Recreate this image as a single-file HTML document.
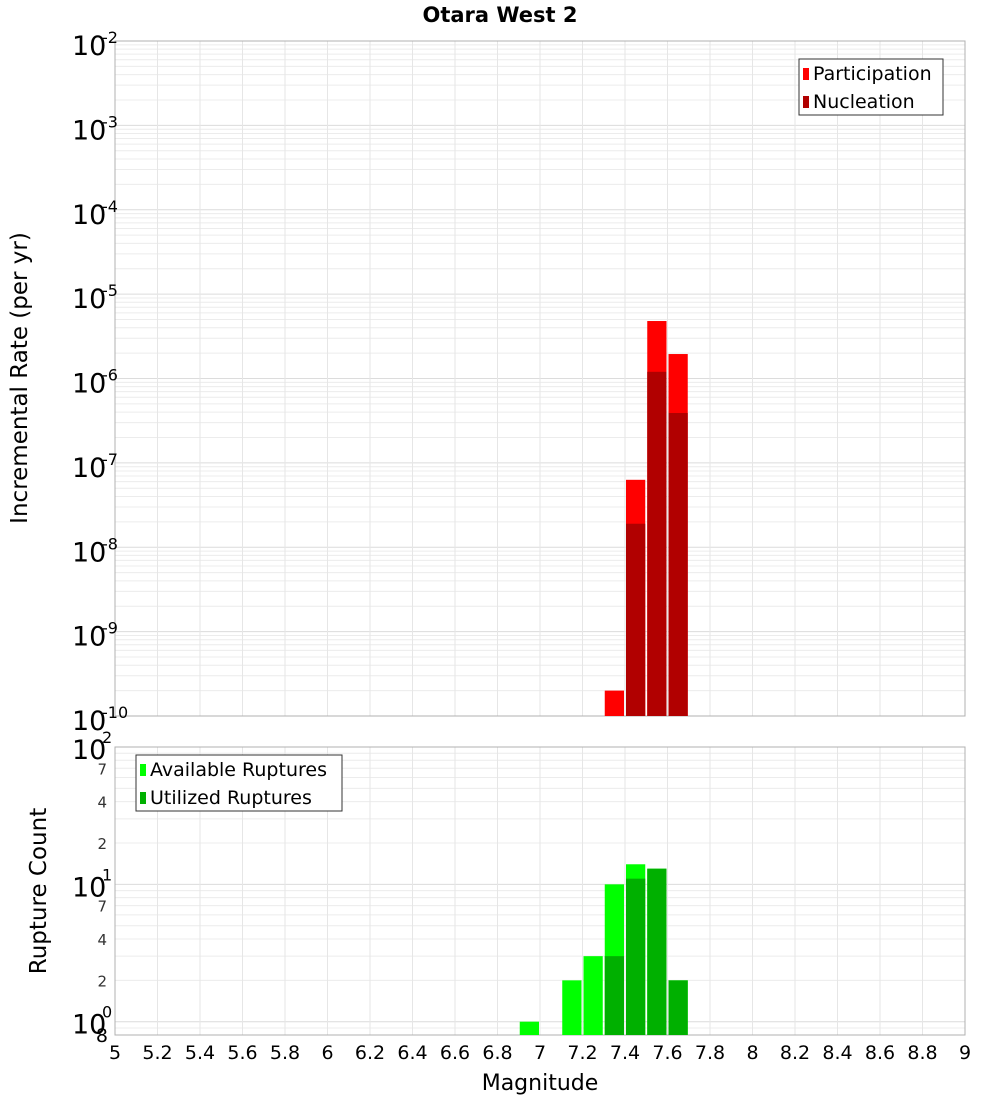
<!DOCTYPE html>
<html><head><meta charset="utf-8"><style>
body{margin:0;background:#fff;font-family:"Liberation Sans","DejaVu Sans",sans-serif}
svg text{font-family:"DejaVu Sans","Liberation Sans",sans-serif}
</style></head><body>
<svg id="c" width="1000" height="1100" xmlns="http://www.w3.org/2000/svg">
<text x="500" y="22" text-anchor="middle" font-size="21" font-weight="bold">Otara West 2</text>
<g id="top"></g><g id="bot"></g>
<text transform="translate(27,378) rotate(-90)" text-anchor="middle" font-size="23">Incremental Rate (per yr)</text>
<text transform="translate(46,891) rotate(-90)" text-anchor="middle" font-size="23">Rupture Count</text>
<text x="540" y="1090" text-anchor="middle" font-size="22">Magnitude</text>
</svg>
<script>
const mags = [7.3, 7.4, 7.5, 7.6];
const participation = [2e-10, 6.3e-8, 4.8e-6, 1.95e-6];
const nucleationMags = [7.4, 7.5, 7.6];
const nucleation = [1.9e-8, 1.2e-6, 3.9e-7];
const availMags = [6.9, 7.1, 7.2, 7.3, 7.4, 7.5, 7.6];
const available = [1, 2, 3, 10, 14, 13, 2];
const utilMags = [7.3, 7.4, 7.5, 7.6];
const utilized = [3, 11, 13, 2];
const xTicks = [5,5.2,5.4,5.6,5.8,6,6.2,6.4,6.6,6.8,7,7.2,7.4,7.6,7.8,8,8.2,8.4,8.6,8.8,9];

const NS="http://www.w3.org/2000/svg";
const X0=115,X1=965;
const xs=m=>X0+(m-5)/4*(X1-X0);
const T={y0:41,y1:716,lmax:-2,lmin:-10};
const B={y0:747,y1:1035,lmax:2,lmin:Math.log10(0.8)};
const ys=(p,v)=>p.y0+(p.lmax-Math.log10(v))/(p.lmax-p.lmin)*(p.y1-p.y0);
function mk(parent,tag,attrs){const e=document.createElementNS(NS,tag);for(const k in attrs)e.setAttribute(k,attrs[k]);parent.appendChild(e);return e;}

function panel(g,p,name){
  mk(g,'rect',{x:X0,y:p.y0,width:X1-X0,height:p.y1-p.y0,fill:'#fff'});
  for(let d=Math.floor(p.lmin);d<p.lmax;d++){
    for(let k=1;k<10;k++){const v=k*Math.pow(10,d);const l=Math.log10(v);
      if(l<p.lmin-1e-9||l>p.lmax+1e-9)continue;const y=ys(p,v);
      mk(g,'line',{x1:X0,x2:X1,y1:y,y2:y,stroke:k==1?'#dcdcdc':'#ececec','stroke-width':1});}
  }
  xTicks.forEach(t=>{const x=xs(t);mk(g,'line',{x1:x,x2:x,y1:p.y0,y2:p.y1,stroke:'#e6e6e6'});});
  const fr=mk(g,'rect',{x:X0,y:p.y0,width:X1-X0,height:p.y1-p.y0,fill:'none',stroke:'#b0b0b0'});
  
  
}
function bars(g,p,ms,vals,color,name){
  ms.forEach((m,i)=>{const x=xs(m)+1,w=xs(m+0.1)-xs(m)-2,y=ys(p,vals[i]);
    const r=mk(g,'rect',{x:x,y:y,width:w,height:p.y1-y,fill:color});
    
    });
}
function legend(g,x,y,w,items,name){
  const r=mk(g,'rect',{x:x,y:y,width:w,height:56,fill:'#fff',stroke:'#333'});
  
  
  items.forEach((it,i)=>{mk(g,'rect',{x:x+4,y:y+9+i*28,width:6,height:12,fill:it[1]});
    const t=mk(g,'text',{x:x+14,y:y+21+i*28,'font-size':19});t.textContent=it[0];
    
    });
}
const gt=document.getElementById('top'),gb=document.getElementById('bot');
panel(gt,T,'rate');
bars(gt,T,mags,participation,'#ff0000','participation');
bars(gt,T,nucleationMags,nucleation,'#b10000','nucleation');
legend(gt,799,59,144,[['Participation','#ff0000'],['Nucleation','#b10000']],'rate-legend');
for(let d=-2;d>=-10;d--){const y=ys(T,Math.pow(10,d));
  const t=mk(gt,'text',{x:72,y:y+14,'font-size':27});t.textContent='10';
  
  
  const s=mk(gt,'text',{x:102,y:y+2,'font-size':16});s.textContent=String(d);}
panel(gb,B,'count');
bars(gb,B,availMags,available,'#00ff00','available');
bars(gb,B,utilMags,utilized,'#00b000','utilized');
legend(gb,136,755,206,[['Available Ruptures','#00ff00'],['Utilized Ruptures','#00b000']],'count-legend');
[[100,'10','2'],[10,'10','1'],[1,'10','0']].forEach(a=>{const y=ys(B,a[0]);
  const t=mk(gb,'text',{x:72,y:y+12,'font-size':27});t.textContent=a[1];
  
  
  const s=mk(gb,'text',{x:102,y:y-4,'font-size':16});s.textContent=a[2];});
[70,40,20,7,4,2].forEach(v=>{const y=ys(B,v);const t=mk(gb,'text',{x:107,y:y+6,'font-size':15,'text-anchor':'end',fill:'#333'});t.textContent=String(v).charAt(0);});
{const t=mk(gb,'text',{x:108,y:1042,'font-size':19,'text-anchor':'end'});t.textContent='8';}
xTicks.forEach(v=>{const t=mk(gb,'text',{x:xs(v),y:1059,'font-size':19,'text-anchor':'middle'});t.textContent=String(v);
  
  });
</script>
</body></html>
